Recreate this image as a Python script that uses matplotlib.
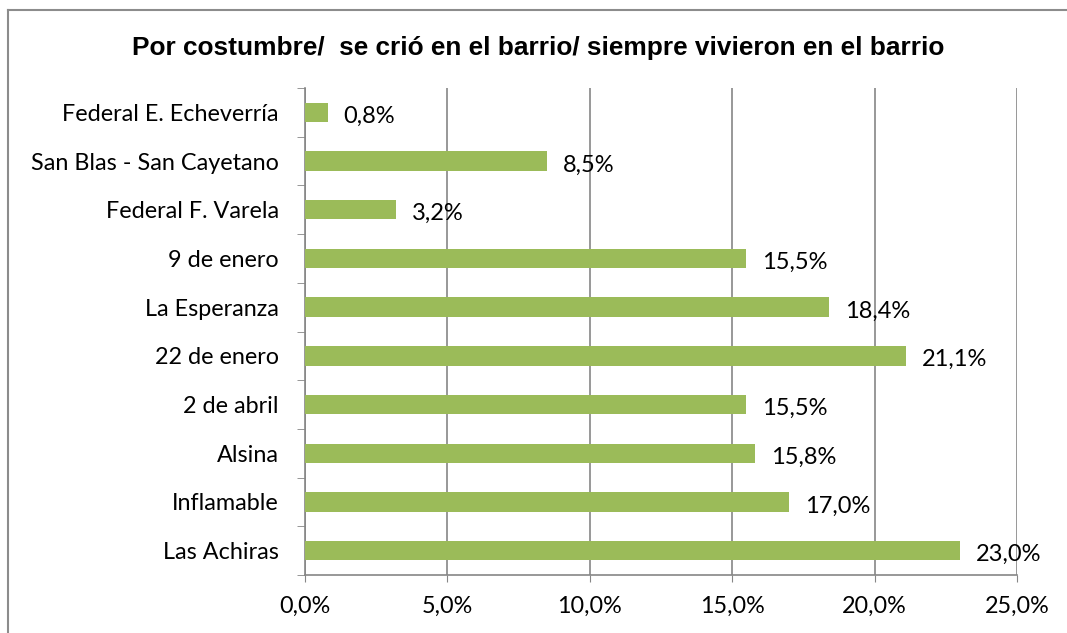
import numpy as np
import matplotlib.pyplot as plt
from matplotlib.lines import Line2D

# categories from top to bottom as shown
barrios = ['Federal E. Echeverría', 'San Blas - San Cayetano', 'Federal F. Varela',
           '9 de enero', 'La Esperanza', '22 de enero', '2 de abril',
           'Alsina', 'Inflamable', 'Las Achiras']
porcentajes = [0.8, 8.5, 3.2, 15.5, 18.4, 21.1, 15.5, 15.8, 17.0, 23.0]
ticks_x = [0, 5, 10, 15, 20, 25]

titulo = 'Por costumbre/  se crió en el barrio/ siempre vivieron en el barrio'

fig = plt.figure(figsize=(10.67, 6.33), dpi=100)
ax = fig.add_axes([0.2859, 0.0916, 0.9531 - 0.2859, 0.861 - 0.0916])

y = np.arange(len(barrios))[::-1]
ax.barh(y, porcentajes, height=0.4, color='#9BBB59', zorder=3)

for yi, v in zip(y, porcentajes):
    ax.text(v + 0.55, yi - 0.08, ('%.1f' % v).replace('.', ',') + '%',
            va='center', ha='left', fontsize=17, family='Lato', zorder=4)

ax.set_xlim(0, 25)
ax.set_ylim(-0.5, len(barrios) - 0.5)
ax.set_xticks(ticks_x)
ax.set_xticklabels([('%.1f' % t).replace('.', ',') + '%' for t in ticks_x],
                   fontsize=16.8, family='Lato')
ax.set_yticks(y)
ax.set_yticklabels(barrios, fontsize=16.8, family='Lato')
ax.tick_params(axis='y', length=0, pad=19)
ax.tick_params(axis='x', length=5, color='#868686', pad=10)
# minor ticks on y at category boundaries
ax.set_yticks(np.arange(-0.5, len(barrios)), minor=True)
ax.tick_params(axis='y', which='minor', length=5.5, color='#868686')

ax.grid(axis='x', color='#868686', linewidth=1.2, zorder=0)
for s in ['top', 'right']:
    ax.spines[s].set_visible(False)
for s in ['left', 'bottom']:
    ax.spines[s].set_color('#868686')
    ax.spines[s].set_linewidth(1.2)

fig.text(538 / 1067, 1 - 48 / 633, titulo, ha='center', va='center',
         fontsize=18.9, fontweight='bold', family='Liberation Sans')

# outer chart frame
fig.add_artist(Line2D([8 / 1067, 8 / 1067], [0, 1 - 10 / 633], color='#8c8c8c', lw=1.5))
fig.add_artist(Line2D([8 / 1067, 1], [1 - 10 / 633, 1 - 10 / 633], color='#8c8c8c', lw=1.5))

fig.savefig('out.png', dpi=100)
